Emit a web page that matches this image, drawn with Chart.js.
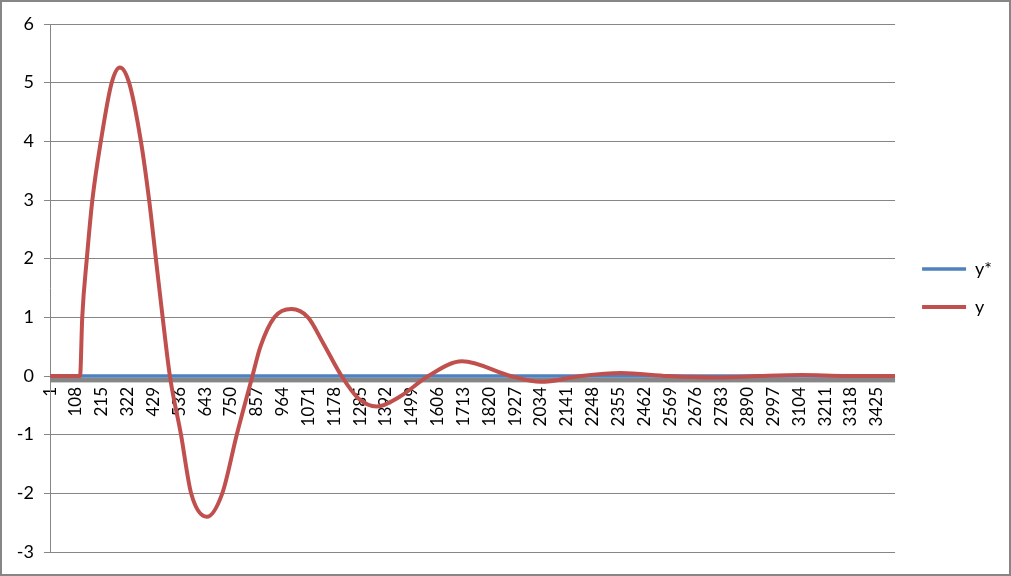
<!DOCTYPE html>
<html><head><meta charset="utf-8">
<script src="https://cdn.jsdelivr.net/npm/chart.js@4/dist/chart.umd.min.js"></script>
<style>html,body{margin:0;padding:0;background:#fff}#wrap{width:1011px;height:576px;position:relative}</style>
</head><body><div id="wrap"><canvas id="c"></canvas></div>
<script>
// Category tick labels shown on the horizontal axis
const xTickLabels = [1,108,215,322,429,536,643,750,857,964,1071,1178,1285,1392,1499,1606,1713,1820,1927,2034,2141,2248,2355,2462,2569,2676,2783,2890,2997,3104,3211,3318,3425];
const xFirst = 1;
const xLast = 3500;
// Series y* (set point) – flat at zero
const yStarX = [1, 3500];
const yStarValues = [0, 0];
// Series y (response)
const yX = [1,125,134,153,176,211,256,290,328,377,411,439,467,497,543,585,650,714,774,839,872,930,1000,1069,1132,1208,1277,1354,1450,1567,1707,1908,2032,2199,2365,2560,2760,2940,3113,3300,3500];
const yValues = [0,0,1.0,2.0,3.0,4.0,5.0,5.26,5.0,4.0,3.0,2.0,1.0,0,-1.0,-2.0,-2.40,-2.0,-1.0,0,0.5,1.0,1.14,1.0,0.56,0,-0.38,-0.52,-0.35,0,0.25,0,-0.10,0,0.05,0,-0.025,0,0.015,0,0];
const seriesNames = ['y*', 'y'];
const yMin = -3, yMax = 6;

const C_RED = '#C0504D', C_BLUE = '#4F81BD', C_GRAY = '#868686';
const FONT = 'Lato, "Open Sans", sans-serif';

const zeroBand = {
  id: 'zeroBand',
  beforeDatasetsDraw(chart) {
    const {ctx, chartArea: a, scales: {y}} = chart;
    const p = y.getPixelForValue(0);
    ctx.save();
    ctx.fillStyle = C_GRAY;
    ctx.fillRect(a.left, p + 1.8, a.right - a.left, 4.6);
    ctx.restore();
  }
};
const frame = {
  id: 'frame',
  afterDraw(chart) {
    const {ctx, width, height} = chart;
    ctx.save();
    ctx.strokeStyle = C_GRAY;
    ctx.lineWidth = 2;
    ctx.strokeRect(1, 1, width - 2, height - 2);
    ctx.restore();
  }
};

new Chart(document.getElementById('c'), {
  type: 'line',
  data: {
    datasets: [
      {
        label: seriesNames[0],
        data: yStarX.map((x, i) => ({x, y: yStarValues[i]})),
        borderColor: C_BLUE, backgroundColor: C_BLUE,
        borderWidth: 3.5, pointRadius: 0, order: 1
      },
      {
        label: seriesNames[1],
        data: yX.map((x, i) => ({x, y: yValues[i]})),
        borderColor: C_RED, backgroundColor: C_RED,
        borderWidth: 4, pointRadius: 0, order: 0,
        cubicInterpolationMode: 'monotone'
      }
    ]
  },
  options: {
    responsive: true, maintainAspectRatio: false, animation: false,
    devicePixelRatio: 1,
    layout: {padding: {top: 24, bottom: 24, left: 0, right: 9}},
    plugins: {
      tooltip: {enabled: false},
      legend: {
        position: 'right',
        labels: {
          usePointStyle: true, pointStyle: 'line', pointStyleWidth: 44,
          boxHeight: 18, padding: 20, color: '#000',
          font: {family: FONT, size: 18},
          sort: (a, b) => a.datasetIndex - b.datasetIndex
        }
      }
    },
    scales: {
      x: {
        type: 'linear', position: {y: 0},
        min: xFirst - 0.5, max: xLast + 0.5,
        afterBuildTicks: s => { s.ticks = xTickLabels.map(v => ({value: v})); },
        grid: {display: false, drawTicks: false},
        border: {display: false},
        ticks: {
          autoSkip: false, maxRotation: 90, minRotation: 90,
          padding: 11, color: '#000',
          font: {family: FONT, size: 17},
          callback: v => String(v)
        }
      },
      y: {
        min: yMin, max: yMax,
        afterFit: s => { s.width = 50; },
        grid: {color: C_GRAY, lineWidth: 1, tickLength: 6, drawTicks: true},
        border: {display: true, color: C_GRAY, width: 1},
        ticks: {stepSize: 1, padding: 10, color: '#000', font: {family: FONT, size: 18}}
      },
      gap: {
        position: 'right', display: true,
        afterFit: s => { s.width = 7; },
        grid: {display: false, drawTicks: false},
        border: {display: false},
        ticks: {display: false}
      }
    }
  },
  plugins: [zeroBand, frame]
});
</script>
</body></html>
